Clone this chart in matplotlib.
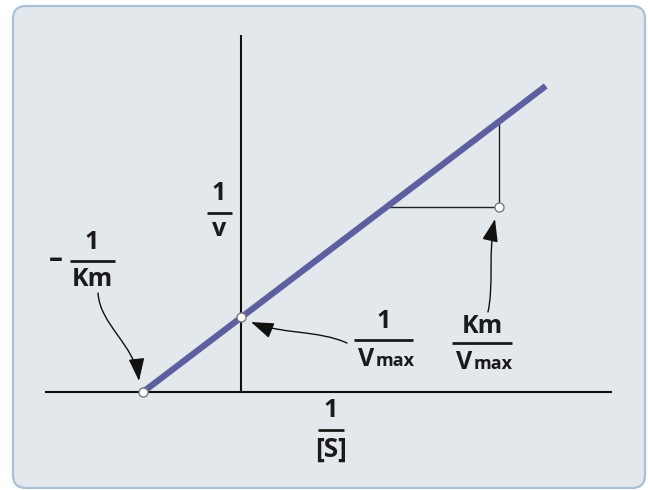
"""
Lineweaver-Burk (double reciprocal) diagram
"""
import matplotlib
matplotlib.use('Agg')
import matplotlib.pyplot as plt
from matplotlib.patches import FancyBboxPatch, FancyArrowPatch
from matplotlib.path import Path
from matplotlib.transforms import IdentityTransform

plt.rcParams['font.family'] = ['Open Sans', 'DejaVu Sans']

# data (units: 1/Km = 1 on x, 1/Vmax = 1 on y)
line_x = [-1.0, 3.11]          # 1/[S]
line_y = [0.0, 4.08]           # 1/v
point_x = [-1.0, 0.0, 2.63]    # -1/Km, y-intercept, slope corner
point_y = [0.0, 1.0, 2.47]
tri_x = [1.49, 2.63, 2.63]     # slope triangle
tri_y = [2.47, 2.47, 3.61]
xaxis_range = [-2.0, 3.79]
yaxis_range = [0.0, 4.76]

LINE_COLOR = '#5d60a0'
PANEL_COLOR = '#e3e8ed'
EDGE_COLOR = '#a9c1d8'

fig = plt.figure(figsize=(6.48, 4.90), dpi=100)
ax = fig.add_axes([0, 0, 1, 1])
ax.set_xlim(-241 / 98, (648 - 241) / 98)
ax.set_ylim((392 - 490) / 75, 392 / 75)
ax.axis('off')

# rounded panel behind everything
panel = FancyBboxPatch((13, 2), 632, 482, boxstyle='round,pad=0,rounding_size=13',
                       facecolor=PANEL_COLOR, edgecolor=EDGE_COLOR, linewidth=1.6,
                       transform=IdentityTransform(), zorder=0, clip_on=False)
ax.add_patch(panel)

# axes
ax.plot(xaxis_range, [0, 0], color='#111111', lw=1.5, zorder=2, solid_capstyle='butt')
ax.plot([0, 0], yaxis_range, color='#111111', lw=1.5, zorder=2, solid_capstyle='butt')

# slope triangle
ax.plot(tri_x, tri_y, color='#222222', lw=1.0, zorder=2)

# main line
ax.plot(line_x, line_y, color=LINE_COLOR, lw=4.5, zorder=3, solid_capstyle='butt')

# marked points
ax.plot(point_x, point_y, 'o', ms=6.5, mfc='white', mec='#7a7a7a', mew=1.0, zorder=4)

FS = 18


def txt(x, y, s, dy=0, size=FS, ha='center', va='center'):
    ax.annotate(s, xy=(x, y), xytext=(0, dy), textcoords='offset points',
                ha=ha, va=va, fontsize=size, fontweight='bold', color='#1a1a1a', zorder=5)


def bar(xc, y, width):
    ax.plot([xc - width / 2, xc + width / 2], [y, y], color='#1a1a1a', lw=2.0, zorder=5,
            solid_capstyle='butt')


def vmax(x_left, y, dy):
    ax.annotate('V', xy=(x_left, y), xytext=(0, dy), textcoords='offset points',
                ha='left', va='baseline', fontsize=FS, fontweight='bold', color='#1a1a1a')
    ax.annotate('max', xy=(x_left, y), xytext=(12.4, dy), textcoords='offset points',
                ha='left', va='baseline', fontsize=13, fontweight='bold', color='#1a1a1a')


# 1 / v
bar(-0.224, 2.387, 0.255)
txt(-0.224, 2.387, '1', dy=14)
txt(-0.224, 2.387, 'v', dy=-12)

# - 1 / Km
bar(-1.520, 1.747, 0.459)
txt(-1.888, 1.747, '–', dy=1, size=20)
txt(-1.520, 1.747, '1', dy=13)
txt(-1.520, 1.747, 'Km', dy=-13)

# 1 / Vmax
bar(1.459, 0.693, 0.602)
txt(1.459, 0.693, '1', dy=13)
vmax(1.194, 0.693, -19)

# Km / Vmax
bar(2.459, 0.653, 0.612)
txt(2.459, 0.653, 'Km', dy=12)
vmax(2.194, 0.653, -19)

# 1 / [S]
bar(0.918, -0.507, 0.26)
txt(0.918, -0.507, '1', dy=14)
txt(0.918, -0.507, '[S]', dy=-14, size=19)


def curved_arrow(pts):
    path = Path(pts, [Path.MOVETO, Path.CURVE4, Path.CURVE4, Path.CURVE4])
    arr = FancyArrowPatch(path=path, arrowstyle='-|>,head_length=1.0,head_width=0.35',
                          mutation_scale=14, color='#111111', lw=1.0, zorder=5)
    ax.add_patch(arr)


curved_arrow([(-1.459, 1.32), (-1.439, 0.893), (-1.082, 0.627), (-1.041, 0.147)])
curved_arrow([(1.082, 0.653), (0.786, 0.827), (0.398, 0.773), (0.102, 0.933)])
curved_arrow([(2.520, 1.067), (2.582, 1.427), (2.520, 1.893), (2.592, 2.307)])

fig.savefig('out.png', dpi=100, facecolor='white')
